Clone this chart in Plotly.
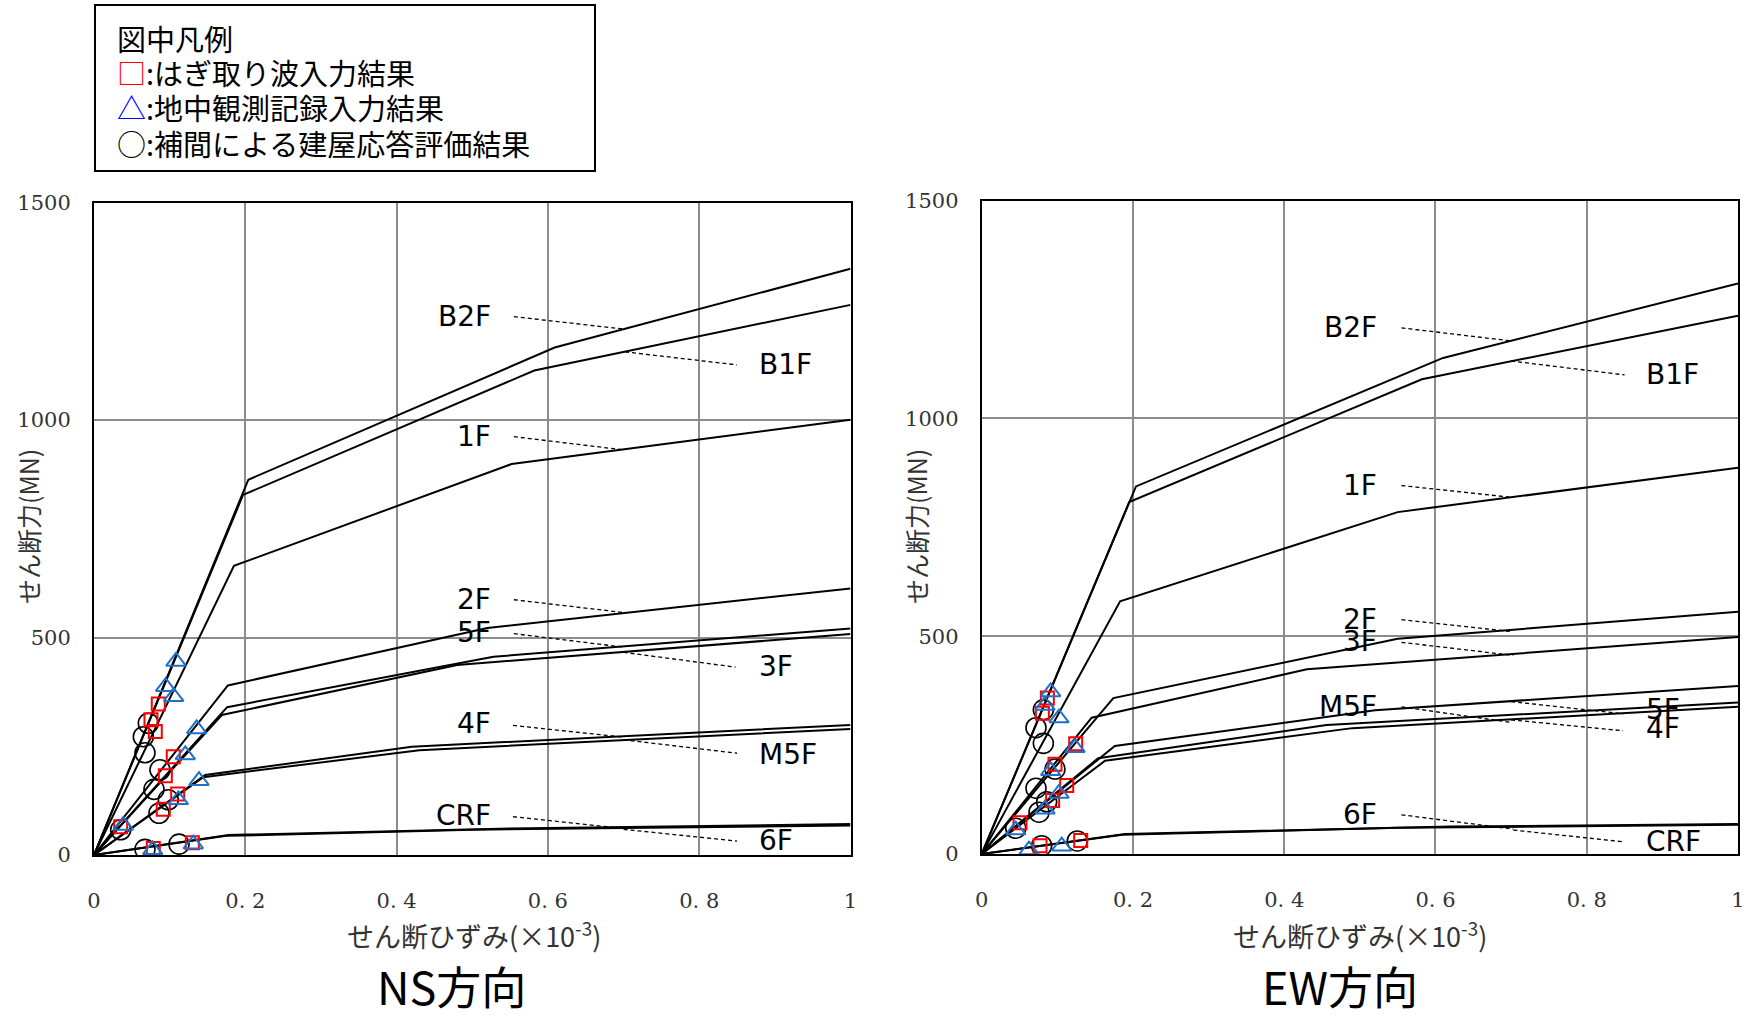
import plotly.graph_objects as go

W, H = 1751, 1019

# ---------------- data : NS direction (skeleton curves) ----------------
ns_b2f_x = [0, 0.204, 0.609, 1.0]
ns_b2f_y = [0, 863, 1167, 1348]
ns_b1f_x = [0, 0.197, 0.582, 1.0]
ns_b1f_y = [0, 828, 1114, 1265]
ns_1f_x = [0, 0.185, 0.552, 1.0]
ns_1f_y = [0, 665, 899, 1001]
ns_2f_x = [0, 0.177, 0.52, 1.0]
ns_2f_y = [0, 390, 522, 613]
ns_5f_x = [0, 0.176, 0.528, 1.0]
ns_5f_y = [0, 340, 456, 521]
ns_3f_x = [0, 0.169, 0.48, 1.0]
ns_3f_y = [0, 322, 437, 508]
ns_4f_x = [0, 0.147, 0.42, 1.0]
ns_4f_y = [0, 184, 249, 299]
ns_m5f_x = [0, 0.1445, 0.43, 1.0]
ns_m5f_y = [0, 179, 241, 290]
ns_crf_x = [0, 0.178, 0.55, 1.0]
ns_crf_y = [0, 46, 61, 71]
ns_6f_x = [0, 0.175, 0.5, 1.0]
ns_6f_y = [0, 44, 58, 68]

# NS response points
ns_sq_x = [0.085, 0.0753, 0.081, 0.1048, 0.0943, 0.1106, 0.0916, 0.0353, 0.0784, 0.130]
ns_sq_y = [347, 311, 284, 226, 182, 140, 105, 65, 15, 28]
ns_tri_x = [0.1084, 0.0947, 0.1053, 0.1357, 0.1207, 0.1388, 0.1115, 0.0388, 0.0776, 0.1313]
ns_tri_y = [445, 387, 364, 290, 230, 171, 127, 68, 12, 25]
ns_cir_x = [0.0718, 0.0652, 0.0674, 0.0872, 0.0793, 0.0982, 0.0859, 0.0353, 0.0674, 0.1124]
ns_cir_y = [303, 272, 235, 196, 151, 127, 96, 58, 13, 25]

# ---------------- data : EW direction ----------------
ew_b2f_x = [0, 0.204, 0.610, 1.0]
ew_b2f_y = [0, 844, 1139, 1310]
ew_b1f_x = [0, 0.195, 0.582, 1.0]
ew_b1f_y = [0, 808, 1090, 1236]
ew_1f_x = [0, 0.183, 0.55, 1.0]
ew_1f_y = [0, 580, 785, 887]
ew_2f_x = [0, 0.174, 0.55, 1.0]
ew_2f_y = [0, 358, 494, 556]
ew_3f_x = [0, 0.1454, 0.43, 1.0]
ew_3f_y = [0, 313, 424, 498]
ew_5f_x = [0, 0.176, 0.52, 1.0]
ew_5f_y = [0, 248, 330, 386]
ew_4f_x = [0, 0.154, 0.456, 1.0]
ew_4f_y = [0, 220, 296, 348]
ew_m5f_x = [0, 0.163, 0.49, 1.0]
ew_m5f_y = [0, 214, 289, 338]
ew_crf_x = [0, 0.1895, 0.62, 1.0]
ew_crf_y = [0, 46, 63, 69]
ew_6f_x = [0, 0.186, 0.55, 1.0]
ew_6f_y = [0, 44, 60, 67]

# EW response points
ew_sq_x = [0.0868, 0.0802, 0.1243, 0.0969, 0.1124, 0.0938, 0.0506, 0.0771, 0.1309]
ew_sq_y = [358, 323, 253, 206, 157, 123, 72, 19, 31]
ew_tri_x = [0.0912, 0.0837, 0.1022, 0.1234, 0.0912, 0.1022, 0.0837, 0.045, 0.0625, 0.1058]
ew_tri_y = [372, 341, 312, 244, 191, 139, 103, 55, 9, 18]
ew_cir_x = [0.0815, 0.0718, 0.0815, 0.0969, 0.0718, 0.0859, 0.0758, 0.045, 0.0793, 0.1264]
ew_cir_y = [331, 290, 254, 195, 151, 120, 96, 59, 19, 30]

# tick labels
x_tickvals = [0, 0.2, 0.4, 0.6, 0.8, 1.0]
x_ticktext = ["0", "0. 2", "0. 4", "0. 6", "0. 8", "1"]
y_tickvals = [0, 500, 1000, 1500]
y_ticktext = ["0", "500", "1000", "1500"]

# floor labels
ns_labels_left = ["B2F", "1F", "2F", "5F", "4F", "CRF"]
ns_labels_left_y = [1238, 962, 587, 511, 303, 90]
ns_labels_right = ["B1F", "3F", "M5F", "6F"]
ns_labels_right_y = [1127, 433, 232, 33]
ns_leaders = [((0.555, 1238), (0.702, 1209)), ((0.702, 1157), (0.85, 1127)),
              ((0.555, 962), (0.698, 932)), ((0.555, 587), (0.698, 558)),
              ((0.555, 509), (0.70, 478)), ((0.70, 466), (0.848, 432)),
              ((0.554, 298), (0.70, 271)), ((0.70, 265), (0.85, 234)),
              ((0.554, 88), (0.70, 61)), ((0.70, 59), (0.85, 32))]

ew_labels_left = ["B2F", "1F", "2F", "3F", "M5F", "6F"]
ew_labels_left_y = [1208, 846, 538, 488, 338, 90]
ew_labels_right = ["B1F", "5F", "4F", "CRF"]
ew_labels_right_y = [1100, 331, 289, 28]
ew_leaders = [((0.555, 1208), (0.70, 1178)), ((0.70, 1132), (0.85, 1100)),
              ((0.555, 846), (0.70, 819)), ((0.555, 538), (0.6985, 511)),
              ((0.555, 486), (0.703, 456)), ((0.555, 338), (0.70, 302)),
              ((0.70, 350), (0.848, 322)), ((0.70, 308), (0.848, 283)),
              ((0.555, 90), (0.703, 57)), ((0.703, 55), (0.848, 28))]

# ---------------- figure ----------------
fig = go.Figure()

JP = "Noto Sans CJK JP"
LBL = "DejaVu Sans"
SQ_COLOR = "#ff0000"
TRI_COLOR = "#1f70c8"


def add_panel(curves, sq, tri, cir, leaders, xa, ya):
    for cx, cy in curves:
        fig.add_trace(go.Scatter(x=cx, y=cy, mode="lines", xaxis=xa, yaxis=ya,
                                 line=dict(color="black", width=2),
                                 showlegend=False, hoverinfo="skip"))
    lx, ly = [], []
    for (a, b) in leaders:
        lx += [a[0], b[0], None]
        ly += [a[1], b[1], None]
    fig.add_trace(go.Scatter(x=lx, y=ly, mode="lines", xaxis=xa, yaxis=ya,
                             line=dict(color="black", width=1.3, dash="4px,3px"),
                             showlegend=False, hoverinfo="skip"))
    fig.add_trace(go.Scatter(x=cir[0], y=cir[1], mode="markers", xaxis=xa, yaxis=ya,
                             marker=dict(symbol="circle-open", size=20, color="black",
                                         line=dict(color="black", width=1.6)),
                             showlegend=False, hoverinfo="skip"))
    fig.add_trace(go.Scatter(x=sq[0], y=sq[1], mode="markers", xaxis=xa, yaxis=ya,
                             marker=dict(symbol="square-open", size=13, color=SQ_COLOR,
                                         line=dict(color=SQ_COLOR, width=2)),
                             showlegend=False, hoverinfo="skip"))
    fig.add_trace(go.Scatter(x=tri[0], y=tri[1], mode="markers", xaxis=xa, yaxis=ya,
                             marker=dict(symbol="triangle-up-open", size=17, color=TRI_COLOR,
                                         line=dict(color=TRI_COLOR, width=2)),
                             showlegend=False, hoverinfo="skip"))


ns_curves = [(ns_b2f_x, ns_b2f_y), (ns_b1f_x, ns_b1f_y), (ns_1f_x, ns_1f_y),
             (ns_2f_x, ns_2f_y), (ns_5f_x, ns_5f_y), (ns_3f_x, ns_3f_y),
             (ns_4f_x, ns_4f_y), (ns_m5f_x, ns_m5f_y), (ns_crf_x, ns_crf_y),
             (ns_6f_x, ns_6f_y)]
ew_curves = [(ew_b2f_x, ew_b2f_y), (ew_b1f_x, ew_b1f_y), (ew_1f_x, ew_1f_y),
             (ew_2f_x, ew_2f_y), (ew_3f_x, ew_3f_y), (ew_5f_x, ew_5f_y),
             (ew_4f_x, ew_4f_y), (ew_m5f_x, ew_m5f_y), (ew_crf_x, ew_crf_y),
             (ew_6f_x, ew_6f_y)]

add_panel(ns_curves, (ns_sq_x, ns_sq_y), (ns_tri_x, ns_tri_y), (ns_cir_x, ns_cir_y),
          ns_leaders, "x", "y")
add_panel(ew_curves, (ew_sq_x, ew_sq_y), (ew_tri_x, ew_tri_y), (ew_cir_x, ew_cir_y),
          ew_leaders, "x2", "y2")

annotations = []


def floor_labels(names, ys, xpos, anchor, xref, yref):
    for n, yv in zip(names, ys):
        annotations.append(dict(text=n, x=xpos, y=yv, xref=xref, yref=yref,
                                xanchor=anchor, yanchor="middle", showarrow=False,
                                font=dict(family=LBL, size=28, color="black")))


floor_labels(ns_labels_left, ns_labels_left_y, 0.527, "right", "x", "y")
floor_labels(ns_labels_right, ns_labels_right_y, 0.876, "left", "x", "y")
floor_labels(ew_labels_left, ew_labels_left_y, 0.525, "right", "x2", "y2")
floor_labels(ew_labels_right, ew_labels_right_y, 0.876, "left", "x2", "y2")


def pap(px, py):
    return px / W, 1 - py / H


def text_ann(text, px, py, size, family=JP, anchor="center", angle=0, color="black",
             yanchor="middle", yshift=0):
    x, y = pap(px, py)
    annotations.append(dict(text=text, x=x, y=y, xref="paper", yref="paper",
                            xanchor=anchor, yanchor=yanchor, showarrow=False,
                            textangle=angle, yshift=yshift, borderpad=0,
                            font=dict(family=family, size=size, color=color)))


# axis titles
text_ann("せん断力(MN)", 28, 527, 25, angle=-90, color="#333333")
text_ann("せん断力(MN)", 916, 527, 25, angle=-90, color="#333333")
text_ann("せん断ひずみ(×10<sup>-3</sup>)", 474, 934, 27, color="#333333")
text_ann("せん断ひずみ(×10<sup>-3</sup>)", 1360, 934, 27, color="#333333")
# panel titles
text_ann("NS方向", 451, 1019, 45, yanchor="bottom")
text_ann("EW方向", 1340, 1019, 45, yanchor="bottom")
# legend box text
text_ann("図中凡例", 116, 38, 29, anchor="left")
text_ann("<span style='color:#ff0000'>□</span>:はぎ取り波入力結果", 116, 72, 29, anchor="left")
text_ann("<span style='color:#0000ff'>△</span>:地中観測記録入力結果", 116, 107, 29, anchor="left")
text_ann("○:補間による建屋応答評価結果", 116, 143, 29, anchor="left")

shapes = [dict(type="rect", xref="paper", yref="paper",
               x0=95 / W, x1=595 / W, y0=1 - 171 / H, y1=1 - 5 / H,
               line=dict(color="black", width=2), fillcolor="rgba(0,0,0,0)")]

xaxis_common = dict(range=[0, 1], tickvals=x_tickvals, ticktext=x_ticktext,
                    showgrid=True, gridcolor="#8c8c8c", gridwidth=1.5,
                    showline=True, linecolor="black", linewidth=2, mirror=True,
                    zeroline=False, ticks="", ticklabelstandoff=26, automargin=False,
                    tickfont=dict(family="DejaVu Serif", size=21, color="#333333"),
                    fixedrange=True)
yaxis_common = dict(range=[0, 1500], tickvals=y_tickvals, ticktext=y_ticktext,
                    showgrid=True, gridcolor="#8c8c8c", gridwidth=1.5,
                    showline=True, linecolor="black", linewidth=2, mirror=True,
                    zeroline=False, ticks="", ticklabelstandoff=17, automargin=False,
                    tickfont=dict(family="DejaVu Serif", size=21, color="#333333"),
                    fixedrange=True)

fig.update_layout(
    width=W, height=H,
    margin=dict(l=0, r=0, t=0, b=0, pad=0, autoexpand=False),
    paper_bgcolor="white", plot_bgcolor="white",
    xaxis=dict(domain=[94 / W, 850.5 / W], anchor="y", **xaxis_common),
    yaxis=dict(domain=[1 - 855 / H, 1 - 202.7 / H], anchor="x", **yaxis_common),
    xaxis2=dict(domain=[981.7 / W, 1738 / W], anchor="y2", **xaxis_common),
    yaxis2=dict(domain=[1 - 854 / H, 1 - 200.7 / H], anchor="x2", **yaxis_common),
    annotations=annotations,
    shapes=shapes,
    showlegend=False,
)

fig.write_html("out.html", config={"displayModeBar": False},
               post_script="document.body.style.margin='0px';")
